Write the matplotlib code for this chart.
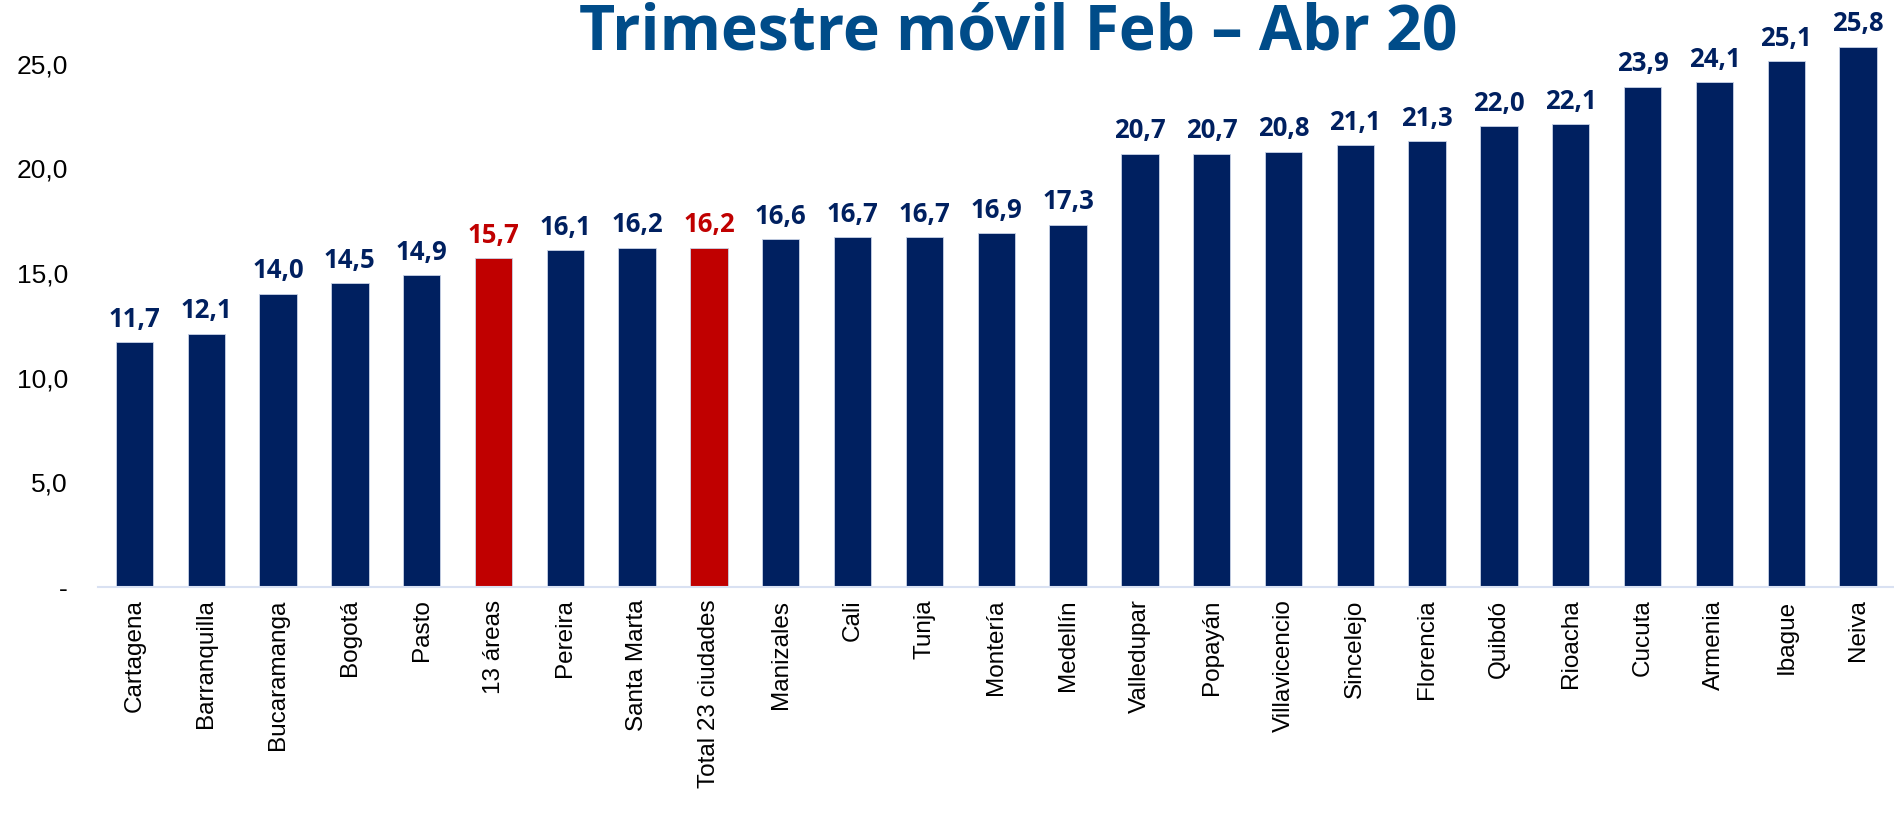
import numpy as np
import matplotlib.pyplot as plt

ciudades = ['Cartagena', 'Barranquilla', 'Bucaramanga', 'Bogotá', 'Pasto', '13 áreas',
            'Pereira', 'Santa Marta', 'Total 23 ciudades', 'Manizales', 'Cali', 'Tunja',
            'Montería', 'Medellín', 'Valledupar', 'Popayán', 'Villavicencio', 'Sincelejo',
            'Florencia', 'Quibdó', 'Rioacha', 'Cucuta', 'Armenia', 'Ibague', 'Neiva']
valores = [11.7, 12.1, 14.0, 14.5, 14.9, 15.7, 16.1, 16.2, 16.2, 16.6, 16.7, 16.7,
           16.9, 17.3, 20.7, 20.7, 20.8, 21.1, 21.3, 22.0, 22.1, 23.9, 24.1, 25.1, 25.8]
resaltados = ['13 áreas', 'Total 23 ciudades']
y_ticks = [0, 5, 10, 15, 20, 25]
y_labels = ['-', '5,0', '10,0', '15,0', '20,0', '25,0']

navy = '#002060'
red = '#C00000'
colores = [red if c in resaltados else navy for c in ciudades]

fig = plt.figure(figsize=(18.94, 8.35), dpi=100)
ax = fig.add_axes([0.052, 0.297, 0.948, 0.677])

x = np.arange(len(ciudades))
ax.bar(x, valores, 0.52, color=colores, edgecolor='#C9D3E6', linewidth=0.6)

for xi, v, c in zip(x, valores, colores):
    ax.text(xi, v + 0.45, f'{v:.1f}'.replace('.', ','), ha='center', va='bottom',
            fontsize=18.5, fontweight='bold', color=c, family='Open Sans')

ax.set_xlim(-0.5, len(ciudades) - 0.5)
ax.set_ylim(0, 27)
ax.set_xticks(x)
ax.set_xticklabels(ciudades, rotation=90, fontsize=17.5, family='Liberation Sans')
ax.set_yticks(y_ticks)
ax.set_yticklabels(y_labels, fontsize=19, family='Liberation Sans')
ax.tick_params(axis='both', length=0)
ax.tick_params(axis='x', pad=9)
ax.tick_params(axis='y', pad=22)

for s in ['top', 'right', 'left']:
    ax.spines[s].set_visible(False)
ax.spines['bottom'].set_color('#D9E1F2')
ax.spines['bottom'].set_linewidth(1.5)

fig.text(0.5377, 0.941, 'Trimestre móvil Feb – Abr 20', ha='center', va='baseline',
         fontsize=45, fontweight='bold', color='#004C89', family='Open Sans')

fig.savefig('out.png', dpi=100)
